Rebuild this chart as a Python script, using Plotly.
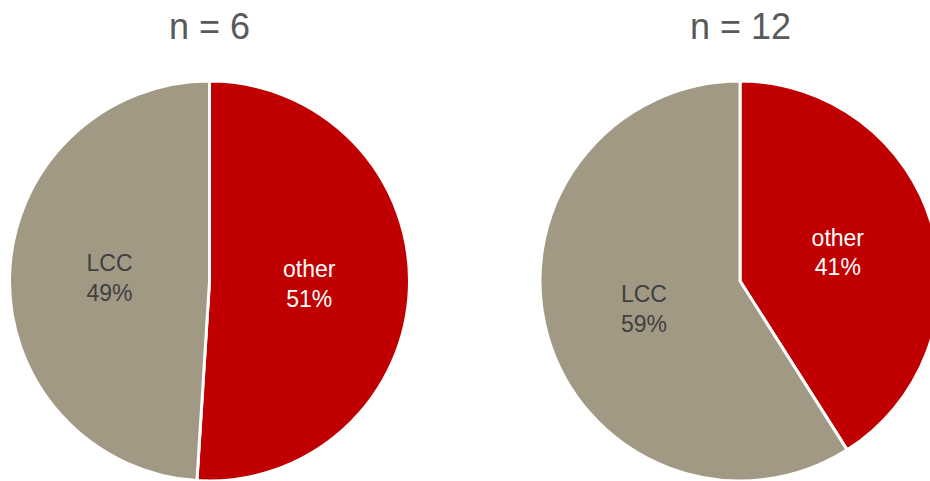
import plotly.graph_objects as go

# Share of cases by category for two sample sizes
categories = ["other", "LCC"]
share_n6 = [51, 49]
share_n12 = [41, 59]
titles = ["n = 6", "n = 12"]

RED = "#C00000"
TAUPE = "#A29985"

W, H = 950, 481

fig = go.Figure()

def add_pie(values, x0, x1):
    fig.add_trace(go.Pie(
        labels=categories,
        values=values,
        sort=False,
        direction="clockwise",
        rotation=0,
        texttemplate="%{label}<br>%{value}%",
        textposition="inside",
        insidetextorientation="horizontal",
        textfont=dict(family="Liberation Sans, Arial, sans-serif", size=23,
                      color=["#FFFFFF", "#404040"]),
        marker=dict(colors=[RED, TAUPE], line=dict(color="#FFFFFF", width=3)),
        showlegend=False,
        hoverinfo="label+percent",
        domain=dict(x=[x0 / W, x1 / W], y=[0, 400 / H]),
    ))

add_pie(share_n6, 9.5, 409.5)
add_pie(share_n12, 540, 940)

for title, cx in zip(titles, [209.5, 740]):
    fig.add_annotation(
        text=title, x=cx / W, y=(H - 27) / H, xref="paper", yref="paper",
        xanchor="center", yanchor="middle", showarrow=False,
        font=dict(family="Liberation Sans, Arial, sans-serif", size=36, color="#595959"),
    )

fig.update_layout(
    width=W, height=H,
    margin=dict(l=0, r=0, t=0, b=0),
    paper_bgcolor="#FFFFFF", plot_bgcolor="#FFFFFF",
    uniformtext=dict(minsize=10, mode="show"),
)

fig.write_html(
    "out.html",
    config={"displayModeBar": False},
    post_script="document.documentElement.style.overflow='hidden';document.body.style.overflow='hidden';document.body.style.margin='0';",
)
